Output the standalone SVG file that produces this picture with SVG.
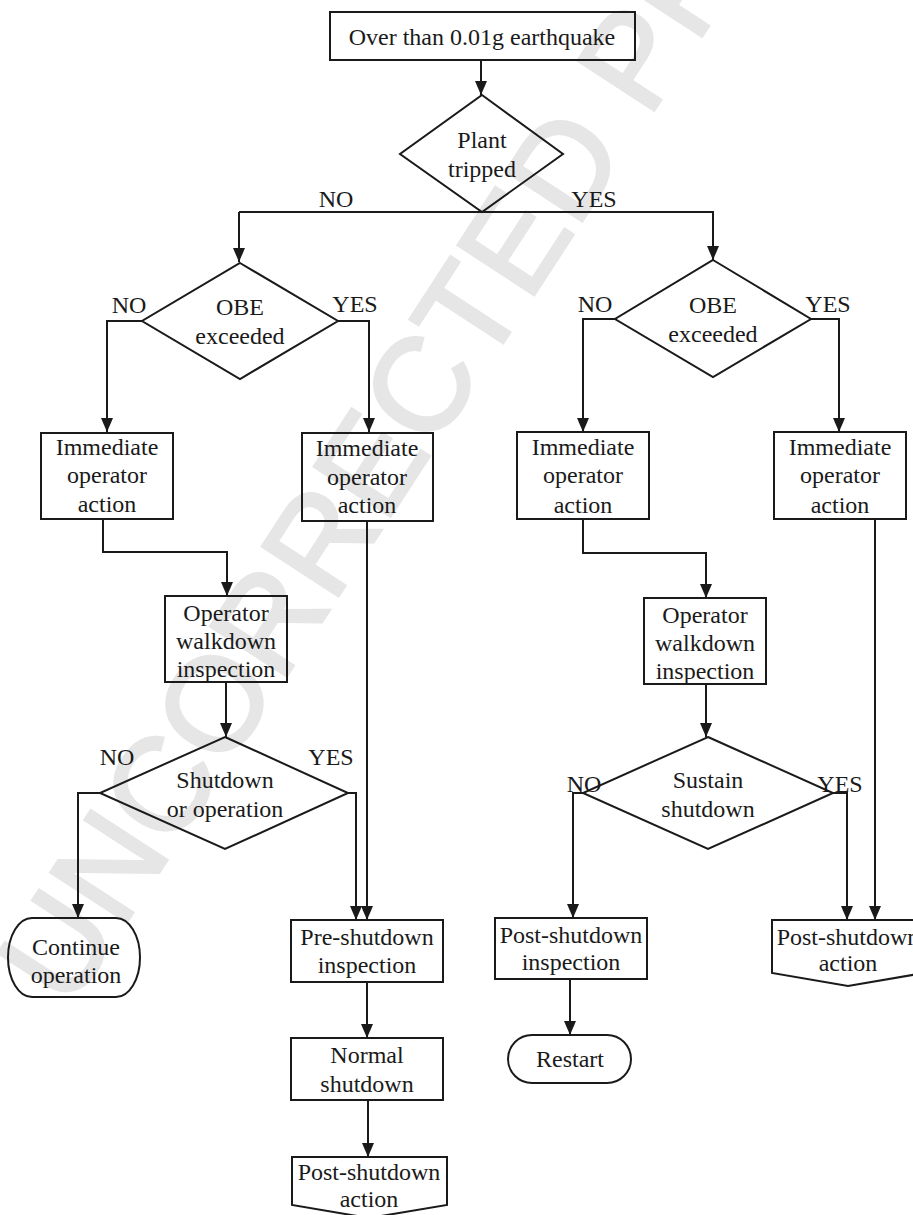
<svg xmlns="http://www.w3.org/2000/svg" width="913" height="1215" viewBox="0 0 913 1215">
<style>
.s{fill:none;stroke:#1a1a1a;stroke-width:2}
.c{fill:none;stroke:#1a1a1a;stroke-width:2}
.t{font-size:24px;fill:#1a1a1a;text-anchor:middle}
.wm{font-size:132px;fill:#e6e6e6;stroke:#e6e6e6;stroke-width:3}
</style>
<defs>
<marker id="ah" viewBox="0 0 14 12" refX="14" refY="6" markerWidth="14" markerHeight="12" markerUnits="userSpaceOnUse" orient="auto">
<path d="M0,0 L14,6 L0,12 Z" fill="#1a1a1a"/>
</marker>
</defs>
<rect width="913" height="1215" fill="#fff"/>
<text class="wm" font-family="Liberation Sans, Arial, sans-serif" transform="translate(69,1011) rotate(-57)">UNCORRECTED PROOF</text>

<g font-family="Liberation Serif, Times New Roman, DejaVu Serif, serif">
<g id="connectors">
<path class="c" d="M481,60 V95" marker-end="url(#ah)"/>
<path class="c" d="M239,212 H713 V260" marker-end="url(#ah)"/>
<path class="c" d="M239,212 V262" marker-end="url(#ah)"/>
<path class="c" d="M142,321 H107 V432" marker-end="url(#ah)"/>
<path class="c" d="M338,321 H369 V432" marker-end="url(#ah)"/>
<path class="c" d="M615,319 H583 V432" marker-end="url(#ah)"/>
<path class="c" d="M811,319 H839 V432" marker-end="url(#ah)"/>
<path class="c" d="M103,519 V552 H227 V596" marker-end="url(#ah)"/>
<path class="c" d="M226,682 V737" marker-end="url(#ah)"/>
<path class="c" d="M100,793 H78 V918" marker-end="url(#ah)"/>
<path class="c" d="M348,793 H356 V920" marker-end="url(#ah)"/>
<path class="c" d="M367,521 V920" marker-end="url(#ah)"/>
<path class="c" d="M367,982 V1038" marker-end="url(#ah)"/>
<path class="c" d="M368,1100 V1157" stroke-width="2.5" marker-end="url(#ah)"/>
<path class="c" d="M583,519 V553 H706 V598" marker-end="url(#ah)"/>
<path class="c" d="M706,684 V737" marker-end="url(#ah)"/>
<path class="c" d="M583,793 H573 V918" marker-end="url(#ah)"/>
<path class="c" d="M833,793 H847 V920" marker-end="url(#ah)"/>
<path class="c" d="M875,519 V920" marker-end="url(#ah)"/>
<path class="c" d="M570,979 V1035" marker-end="url(#ah)"/>
<text class="t" x="336" y="207">NO</text>
<text class="t" x="594" y="207">YES</text>
<text class="t" x="129" y="313">NO</text>
<text class="t" x="355" y="312">YES</text>
<text class="t" x="595" y="312">NO</text>
<text class="t" x="828" y="312">YES</text>
<text class="t" x="117" y="765">NO</text>
<text class="t" x="331" y="765">YES</text>
<text class="t" x="584" y="792">NO</text>
<text class="t" x="840" y="792">YES</text>
</g>

<g id="start">
<rect class="s" x="330" y="12" width="305" height="48"/>
<text class="t" x="482" y="45">Over than 0.01g earthquake</text>
</g>

<g id="plant-tripped">
<path class="s" d="M482,95 L563,154 L482,212 L400,154 Z"/>
<text class="t" x="482" y="148">Plant</text>
<text class="t" x="482" y="177">tripped</text>
</g>

<g id="obe-left">
<path class="s" d="M240,263 L338,321 L240,379 L142,321 Z"/>
<text class="t" x="240" y="315">OBE</text>
<text class="t" x="240" y="344">exceeded</text>
</g>

<g id="obe-right">
<path class="s" d="M713,260 L811,319 L713,377 L615,319 Z"/>
<text class="t" x="713" y="313">OBE</text>
<text class="t" x="713" y="342">exceeded</text>
</g>

<g id="action-1">
<rect class="s" x="41" y="433" width="132" height="86"/>
<text class="t" x="107" y="455">Immediate</text>
<text class="t" x="107" y="483">operator</text>
<text class="t" x="107" y="512">action</text>
</g>

<g id="action-2">
<rect class="s" x="302" y="433" width="131" height="88"/>
<text class="t" x="367" y="456">Immediate</text>
<text class="t" x="367" y="485">operator</text>
<text class="t" x="367" y="513">action</text>
</g>

<g id="action-3">
<rect class="s" x="517" y="432" width="132" height="87"/>
<text class="t" x="583" y="455">Immediate</text>
<text class="t" x="583" y="483">operator</text>
<text class="t" x="583" y="513">action</text>
</g>

<g id="action-4">
<rect class="s" x="774" y="432" width="132" height="87"/>
<text class="t" x="840" y="455">Immediate</text>
<text class="t" x="840" y="483">operator</text>
<text class="t" x="840" y="513">action</text>
</g>

<g id="walkdown-left">
<rect class="s" x="165" y="596" width="122" height="86"/>
<text class="t" x="226" y="621">Operator</text>
<text class="t" x="226" y="649">walkdown</text>
<text class="t" x="226" y="677">inspection</text>
</g>

<g id="walkdown-right">
<rect class="s" x="644" y="598" width="122" height="86"/>
<text class="t" x="705" y="623">Operator</text>
<text class="t" x="705" y="651">walkdown</text>
<text class="t" x="705" y="679">inspection</text>
</g>

<g id="shutdown-or-operation">
<path class="s" d="M225,737 L348,793 L225,849 L100,793 Z"/>
<text class="t" x="225" y="788">Shutdown</text>
<text class="t" x="225" y="817">or operation</text>
</g>

<g id="sustain-shutdown">
<path class="s" d="M708,737 L833,793 L708,849 L583,793 Z"/>
<text class="t" x="708" y="788">Sustain</text>
<text class="t" x="708" y="817">shutdown</text>
</g>

<g id="continue-operation">
<path class="s" d="M32,918 H116 A24,39.5 0 0 1 116,997 H32 A24,39.5 0 0 1 32,918 Z"/>
<text class="t" x="76" y="955">Continue</text>
<text class="t" x="76" y="983">operation</text>
</g>

<g id="pre-shutdown">
<rect class="s" x="291" y="920" width="152" height="62"/>
<text class="t" x="367" y="945">Pre-shutdown</text>
<text class="t" x="367" y="973">inspection</text>
</g>

<g id="normal-shutdown">
<rect class="s" x="291" y="1038" width="152" height="62"/>
<text class="t" x="367" y="1063">Normal</text>
<text class="t" x="367" y="1092">shutdown</text>
</g>

<g id="post-action-bottom">
<path class="s" d="M292,1157 H447 V1205 L369,1218 L292,1205 Z"/>
<text class="t" x="369" y="1180">Post-shutdown</text>
<text class="t" x="369" y="1207">action</text>
</g>

<g id="post-inspection">
<rect class="s" x="495" y="918" width="152" height="61"/>
<text class="t" x="571" y="943">Post-shutdown</text>
<text class="t" x="571" y="970">inspection</text>
</g>

<g id="restart">
<rect class="s" x="508" y="1035" width="123" height="48" rx="24" ry="24"/>
<text class="t" x="570" y="1067">Restart</text>
</g>

<g id="post-action-right">
<path class="s" d="M772,920 H924 V973 L848,986 L772,973 Z"/>
<text class="t" x="848" y="945">Post-shutdown</text>
<text class="t" x="848" y="971">action</text>
</g>
</g>
</svg>
